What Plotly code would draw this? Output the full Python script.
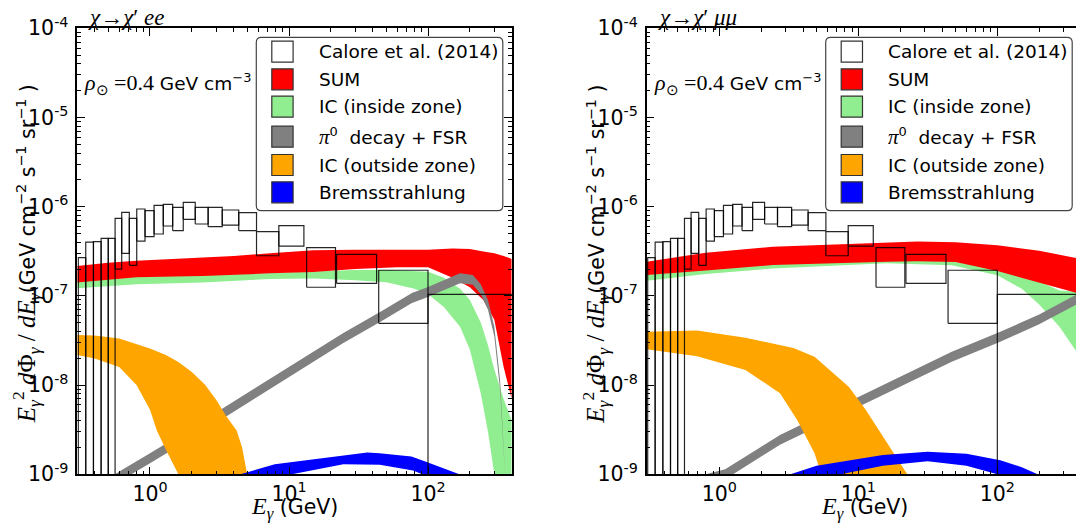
import plotly.graph_objects as go

W, H = 1076, 525

# ---------------- data ----------------
# Calore et al. (2014) error boxes (same in both panels)
calore_e_lo = [0.305, 0.345, 0.392, 0.445, 0.501, 0.561, 0.626, 0.710, 0.803, 0.921, 1.07, 1.246,
               1.456, 1.735, 2.116, 2.62, 3.31, 4.35, 5.84, 8.45, 13.4, 22.0, 44.2, 100.0]
calore_e_hi = [0.345, 0.392, 0.445, 0.501, 0.561, 0.626, 0.710, 0.803, 0.921, 1.07, 1.246, 1.456,
               1.735, 2.116, 2.62, 3.31, 4.35, 5.84, 8.45, 12.8, 21.6, 42.7, 100.0, 500.0]
calore_f_lo = [1e-10, 1e-10, 1e-10, 1e-10, 1e-10, 2.0e-7, 3.0e-7, 2.2e-7, 4.12e-7, 4.61e-7, 4.94e-7, 6.08e-7,
               5.38e-7, 7.22e-7, 6.4e-7, 5.97e-7, 6.23e-7, 5.38e-7, 2.82e-7, 3.62e-7, 1.25e-7, 1.38e-7, 4.93e-8, 1e-10]
calore_f_hi = [2.68e-7, 4.0e-7, 4.05e-7, 4.42e-7, 4.42e-7, 7.41e-7, 8.65e-7, 7.41e-7, 9.42e-7, 9.02e-7, 1.037e-6, 1.064e-6,
               9.85e-7, 1.12e-6, 9.85e-7, 9.85e-7, 9.18e-7, 8.57e-7, 5.25e-7, 6.12e-7, 3.47e-7, 2.92e-7, 1.94e-7, 1.04e-7]

# ---- left panel: chi -> chi' e e ----
ee_sum_E = [0.3, 0.5, 0.8, 1.5, 2.4, 4.0, 7.3, 15, 30, 60, 100, 150, 200, 250, 300, 350, 400]
ee_sum_hi = [2.16e-7, 2.35e-7, 2.48e-7, 2.6e-7, 2.68e-7, 2.8e-7, 3.0e-7, 3.25e-7, 3.3e-7, 3.3e-7, 3.3e-7,
             3.4e-7, 3.35e-7, 3.15e-7, 3.0e-7, 2.8e-7, 2.6e-7]
ee_sum_lo = [1.41e-7, 1.52e-7, 1.62e-7, 1.65e-7, 1.67e-7, 1.72e-7, 1.79e-7, 1.85e-7, 2.0e-7, 2.1e-7, 2.1e-7,
             1.6e-7, 1.25e-7, 9e-8, 5.4e-8, 1.6e-8, 7e-9]

ee_icin_E = [0.3, 0.8, 2.4, 7.3, 15, 30, 50, 80, 100, 130, 170, 200, 240, 270, 300, 350, 400]
ee_icin_hi = [1.45e-7, 1.66e-7, 1.7e-7, 1.82e-7, 1.88e-7, 1.95e-7, 1.95e-7, 1.9e-7, 1.86e-7, 1.6e-7, 1.2e-7,
              9e-8, 5e-8, 2.8e-8, 1.5e-8, 7e-9, 4e-9]
ee_icin_lo = [1.22e-7, 1.35e-7, 1.41e-7, 1.55e-7, 1.57e-7, 1.5e-7, 1.42e-7, 1.2e-7, 1.05e-7, 7.5e-8, 4.5e-8,
              2.5e-8, 8e-9, 3e-9, 1e-9, 5e-10, 3e-10]

ee_pi_E = [0.4, 0.64, 1.0, 2.17, 3.37, 10, 24.6, 46.5, 76.6, 100, 170, 210, 239, 270, 300, 330, 360]
ee_pi_hi = [7.2e-10, 1.14e-9, 1.72e-9, 3.57e-9, 5.53e-9, 1.6e-8, 3.84e-8, 6.76e-8, 1.08e-7, 1.26e-7, 1.8e-7,
            1.72e-7, 1.36e-7, 9.0e-8, 4.5e-8, 1.14e-8, 1.14e-9]
ee_pi_lo = [5.5e-10, 8.8e-10, 1.33e-9, 2.76e-9, 4.28e-9, 1.23e-8, 2.96e-8, 5.22e-8, 8.3e-8, 9.7e-8, 1.39e-7,
            1.33e-7, 1.05e-7, 7.0e-8, 3.5e-8, 8.8e-9, 8.8e-10]

ee_icout_E_hi = [0.3, 0.4, 0.6, 0.8, 1.0, 1.3, 1.6, 2.0, 2.5, 3.0, 3.5, 4.2, 4.6, 5.0, 5.3]
ee_icout_hi = [3.65e-8, 3.59e-8, 3.33e-8, 2.85e-8, 2.57e-8, 2.17e-8, 1.81e-8, 1.40e-8, 1.0e-8, 6.8e-9,
               4.6e-9, 3.1e-9, 2.0e-9, 1.0e-9, 5e-10]
ee_icout_E_lo = [0.3, 0.4, 0.6, 0.8, 1.0, 1.12, 1.3, 1.6, 1.8]
ee_icout_lo = [2.17e-8, 1.99e-8, 1.60e-8, 1.0e-8, 5.3e-9, 3.1e-9, 1.9e-9, 1.0e-9, 5e-10]

ee_brem_E_hi = [4.0, 4.47, 7.9, 24.6, 36.6, 44.8, 76, 100, 135, 168, 190]
ee_brem_hi = [8e-10, 1e-9, 1.3e-9, 1.64e-9, 1.75e-9, 1.72e-9, 1.58e-9, 1.36e-9, 1.14e-9, 1e-9, 8e-10]
ee_brem_E_lo = [9, 10.5, 24.6, 45, 78, 91, 100]
ee_brem_lo = [8e-10, 1e-9, 1.3e-9, 1.28e-9, 1.1e-9, 1e-9, 8e-10]

# ---- right panel: chi -> chi' mu mu ----
mm_sum_E = [0.3, 0.8, 2.42, 7, 15.9, 26.7, 50, 100, 200, 400]
mm_sum_hi = [2.42e-7, 3.05e-7, 3.56e-7, 3.8e-7, 3.94e-7, 4.06e-7, 4.0e-7, 3.7e-7, 3.2e-7, 2.6e-7]
mm_sum_lo = [1.71e-7, 1.93e-7, 2.22e-7, 2.35e-7, 2.42e-7, 2.45e-7, 2.4e-7, 1.9e-7, 1.4e-7, 1.05e-7]

mm_icin_E = [0.3, 0.8, 2.42, 15.9, 47, 100, 150, 200, 280, 400]
mm_icin_hi = [1.75e-7, 1.98e-7, 2.27e-7, 2.47e-7, 2.45e-7, 2.0e-7, 1.7e-7, 1.45e-7, 1.15e-7, 1.1e-7]
mm_icin_lo = [1.48e-7, 1.76e-7, 2.03e-7, 2.33e-7, 2.2e-7, 1.7e-7, 1.2e-7, 8e-8, 4.5e-8, 2.0e-8]

mm_pi_E = [0.8, 1.1, 2.73, 10.7, 47, 105, 200, 400]
mm_pi_hi = [1.0e-9, 1.14e-9, 2.76e-9, 7.7e-9, 2.36e-8, 3.96e-8, 6.2e-8, 1.1e-7]
mm_pi_lo = [7.0e-10, 8.8e-10, 2.14e-9, 6.0e-9, 1.83e-8, 3.07e-8, 4.8e-8, 8.5e-8]

mm_icout_E_hi = [0.3, 0.69, 1.54, 3.41, 4.84, 8.53, 11.3, 15.1, 22.5, 25]
mm_icout_hi = [3.97e-8, 4.1e-8, 3.4e-8, 2.6e-8, 2.08e-8, 9.6e-9, 5.3e-9, 2.64e-9, 1.0e-9, 6e-10]
mm_icout_E_lo = [0.3, 0.69, 1.54, 2.73, 3.63, 4.84, 5.41, 6.0]
mm_icout_lo = [2.52e-8, 2.1e-8, 1.48e-8, 8.1e-9, 4.07e-9, 1.72e-9, 1.0e-9, 6e-10]

mm_brem_E_hi = [2.8, 3.25, 5, 8.5, 15, 31.5, 60, 105, 150, 195, 220]
mm_brem_hi = [8e-10, 1e-9, 1.25e-9, 1.44e-9, 1.65e-9, 1.79e-9, 1.7e-9, 1.44e-9, 1.2e-9, 1e-9, 8e-10]
mm_brem_E_lo = [6.5, 7.5, 15, 31.5, 38.4, 60, 100, 110]
mm_brem_lo = [8e-10, 1e-9, 1.25e-9, 1.4e-9, 1.36e-9, 1.25e-9, 1.0e-9, 9e-10]

SERIF = "Liberation Serif"
SANS = "DejaVu Sans"

legend_labels = ["Calore et al. (2014)", "SUM", "IC (inside zone)",
                 f"<span style='font-family:{SERIF};font-size:21px'><i>π</i></span><sup>0</sup>  decay + FSR",
                 "IC (outside zone)", "Bremsstrahlung"]
legend_colors = ["white", "#FF0000", "#90EE90", "#808080", "#FFA500", "#0000FF"]
colors = dict(sum="#FF0000", icin="#90EE90", pi="#808080", icout="#FFA500", brem="#0000FF")

x_major = [1, 10, 100]
x_major_text = ["10<sup>0</sup>", "10<sup>1</sup>", "10<sup>2</sup>"]
x_minor = [0.3, 0.4, 0.5, 0.6, 0.7, 0.8, 0.9, 2, 3, 4, 5, 6, 7, 8, 9,
           20, 30, 40, 50, 60, 70, 80, 90, 200, 300, 400]
y_major = [1e-9, 1e-8, 1e-7, 1e-6, 1e-5, 1e-4]
y_major_text = ["10<sup>-9</sup>", "10<sup>-8</sup>", "10<sup>-7</sup>", "10<sup>-6</sup>",
                "10<sup>-5</sup>", "10<sup>-4</sup>"]
y_minor = [k * 10.0 ** d for d in range(-9, -4) for k in range(2, 10)]

titles = ["<i>χ</i>→<i>χ</i>′ <i>ee</i>", "<i>χ</i>→<i>χ</i>′ <i>μμ</i>"]

# ---------------- layout geometry (pixels) ----------------
LEFT = dict(x0=77.3, x1=511.7, xr=[-0.5229, 2.6021])
RIGHT = dict(x0=646.7, x1=1076.0, xr=[-0.5229, 2.566])
Y0, Y1 = 28.3, 474.3
FS = 18.5      # legend / annotation text
TFS = 20.5     # tick labels
LFS = 20.5     # axis labels (sans part)
MFS = 25       # axis labels (math part)


def px(x):
    return x / W


def py(y):
    return 1 - y / H


fig = go.Figure()


def band(xa, ya, e_hi, f_hi, e_lo, f_lo, color):
    fig.add_trace(go.Scatter(
        x=list(e_hi) + list(e_lo)[::-1], y=list(f_hi) + list(f_lo)[::-1],
        xaxis=xa, yaxis=ya, mode="lines", fill="toself", fillcolor=color,
        line=dict(width=0, color=color), hoverinfo="skip", showlegend=False))


def boxes(xa, ya):
    xs, ys = [], []
    for a, b, lo, hi in zip(calore_e_lo, calore_e_hi, calore_f_lo, calore_f_hi):
        xs += [a, b, b, a, a, None]
        ys += [lo, lo, hi, hi, lo, None]
    fig.add_trace(go.Scatter(x=xs, y=ys, xaxis=xa, yaxis=ya, mode="lines",
                             line=dict(color="rgba(0,0,0,0.85)", width=1.2),
                             hoverinfo="skip", showlegend=False))


panels = [
    ("x", "y", ee_sum_E, ee_sum_hi, ee_sum_lo, ee_icin_E, ee_icin_hi, ee_icin_lo, ee_pi_E, ee_pi_hi, ee_pi_lo,
     ee_icout_E_hi, ee_icout_hi, ee_icout_E_lo, ee_icout_lo, ee_brem_E_hi, ee_brem_hi, ee_brem_E_lo, ee_brem_lo),
    ("x2", "y2", mm_sum_E, mm_sum_hi, mm_sum_lo, mm_icin_E, mm_icin_hi, mm_icin_lo, mm_pi_E, mm_pi_hi, mm_pi_lo,
     mm_icout_E_hi, mm_icout_hi, mm_icout_E_lo, mm_icout_lo, mm_brem_E_hi, mm_brem_hi, mm_brem_E_lo, mm_brem_lo),
]
for (xa, ya, sE, sH, sL, iE, iH, iL, pE, pH, pL, oEh, oH, oEl, oL, bEh, bH, bEl, bL) in panels:
    band(xa, ya, iE, iH, iE, iL, colors["icin"])
    band(xa, ya, sE, sH, sE, sL, colors["sum"])
    band(xa, ya, pE, pH, pE, pL, colors["pi"])
    band(xa, ya, oEh, oH, oEl, oL, colors["icout"])
    band(xa, ya, bEh, bH, bEl, bL, colors["brem"])
    boxes(xa, ya)


def xaxis_style(geom, mirror):
    return dict(type="log", range=geom["xr"], domain=[px(geom["x0"]), px(geom["x1"])],
                showline=True, linecolor="black", linewidth=1.5, mirror=mirror,
                ticks="inside", ticklen=8, tickwidth=1.3, tickcolor="black",
                tickmode="array", tickvals=x_major, ticktext=x_major_text,
                tickfont=dict(family=SANS, size=TFS, color="black"),
                minor=dict(ticks="inside", ticklen=4, tickwidth=1, tickcolor="black",
                           tickmode="array", tickvals=x_minor, showgrid=False),
                showgrid=False, zeroline=False, automargin=False, ticklabelstandoff=0)


def yaxis_style(anchor, mirror):
    return dict(type="log", range=[-9, -4], domain=[py(Y1), py(Y0)], anchor=anchor,
                showline=True, linecolor="black", linewidth=1.5, mirror=mirror,
                ticks="inside", ticklen=8, tickwidth=1.3, tickcolor="black",
                tickmode="array", tickvals=y_major, ticktext=y_major_text,
                tickfont=dict(family=SANS, size=TFS, color="black"),
                minor=dict(ticks="inside", ticklen=4, tickwidth=1, tickcolor="black",
                           tickmode="array", tickvals=y_minor, showgrid=False),
                showgrid=False, zeroline=False, automargin=False, ticklabelstandoff=3)


xa1 = xaxis_style(LEFT, "allticks")
xa1["anchor"] = "y"
xa2 = xaxis_style(RIGHT, "allticks")
xa2["anchor"] = "y2"

shapes = []
annotations = []


def rounded_rect(x0, y0, x1, y1, r):
    return (f"M {px(x0 + r)},{py(y0)} L {px(x1 - r)},{py(y0)} Q {px(x1)},{py(y0)} {px(x1)},{py(y0 + r)} "
            f"L {px(x1)},{py(y1 - r)} Q {px(x1)},{py(y1)} {px(x1 - r)},{py(y1)} "
            f"L {px(x0 + r)},{py(y1)} Q {px(x0)},{py(y1)} {px(x0)},{py(y1 - r)} "
            f"L {px(x0)},{py(y0 + r)} Q {px(x0)},{py(y0)} {px(x0 + r)},{py(y0)} Z")


row_y = [51.7, 79.3, 106.7, 136.7, 165.0, 192.3]
for k, geom in enumerate([LEFT, RIGHT]):
    ax0 = geom["x0"]
    # legend frame
    shapes.append(dict(type="path", xref="paper", yref="paper",
                       path=rounded_rect(ax0 + 179.0, 37.3, ax0 + 425.5, 210.7, 5),
                       line=dict(color="#444444", width=1.2), fillcolor="white", layer="above"))
    for lab, col, yy in zip(legend_labels, legend_colors, row_y):
        shapes.append(dict(type="rect", xref="paper", yref="paper",
                           x0=px(ax0 + 194.5), x1=px(ax0 + 215.8), y0=py(yy + 10.5), y1=py(yy - 10.5),
                           line=dict(color="#333333", width=1.2), fillcolor=col, layer="above"))
        annotations.append(dict(xref="paper", yref="paper", x=px(ax0 + 239.3), y=py(yy),
                                xanchor="left", yanchor="middle", showarrow=False, text=lab,
                                font=dict(family=SANS, size=FS, color="black")))
    # panel title
    annotations.append(dict(xref="paper", yref="paper", x=px(ax0 + 9), y=py(17),
                            xanchor="left", yanchor="middle", showarrow=False, text=titles[k],
                            font=dict(family=SERIF, size=23, color="black")))
    # rho annotation
    annotations.append(dict(xref="paper", yref="paper", x=px(ax0 + 5), y=py(84),
                            xanchor="left", yanchor="middle", showarrow=False,
                            text=(f"<span style='font-family:{SERIF};font-size:22px'><i>ρ</i>"
                                  "<sub>⊙</sub> =0.4</span> GeV cm<sup>−3</sup>"),
                            font=dict(family=SANS, size=FS, color="black")))
    # x title
    annotations.append(dict(xref="paper", yref="paper", x=px(ax0 + 217.5), y=py(525),
                            xanchor="center", yanchor="bottom", showarrow=False,
                            text=(f"<span style='font-family:{SERIF};font-size:24px'><i>E</i>"
                                  "<sub><i>γ</i></sub></span> (GeV)"),
                            font=dict(family=SANS, size=LFS, color="black")))
    # y title
    annotations.append(dict(xref="paper", yref="paper", x=px(ax0 - 51), y=py(254),
                            xanchor="center", yanchor="middle", showarrow=False, textangle=-90,
                            text=(f"<span style='font-family:{SERIF};font-size:{MFS}px'><i>E</i>"
                                  "<sub><i>γ</i></sub><sup>2</sup> <i>d</i>Φ<sub><i>γ</i></sub> / "
                                  "<i>dE</i><sub><i>γ</i></sub></span>"
                                  "(GeV cm<sup>−2</sup> s<sup>−1</sup> sr<sup>−1</sup> )"),
                            font=dict(family=SANS, size=LFS, color="black")))

fig.update_layout(
    width=W, height=H, margin=dict(l=0, r=0, t=0, b=0),
    paper_bgcolor="white", plot_bgcolor="white", showlegend=False,
    xaxis=xa1, yaxis=yaxis_style("x", "allticks"),
    xaxis2=xa2, yaxis2=yaxis_style("x2", False),
    shapes=shapes, annotations=annotations,
)

fig.write_html("out.html")
